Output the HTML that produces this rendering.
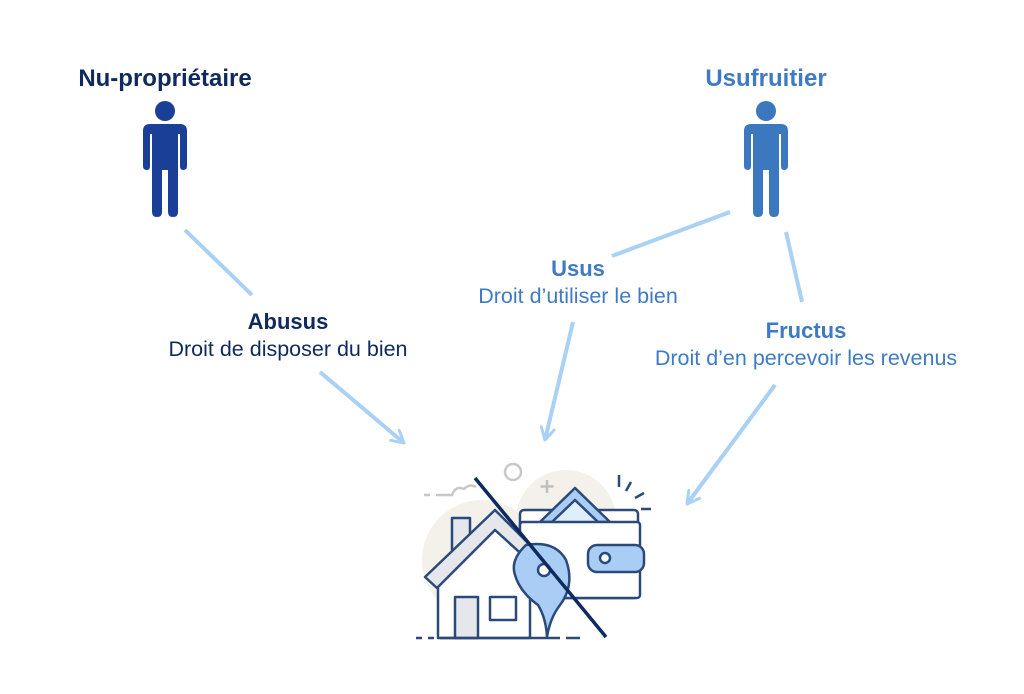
<!DOCTYPE html>
<html><head><meta charset="utf-8"><style>
html,body{margin:0;padding:0;background:#fff;}
svg{display:block;}
text{font-family:"Liberation Sans",sans-serif;}
</style></head><body>
<svg width="1024" height="694" viewBox="0 0 1024 694" xmlns="http://www.w3.org/2000/svg">
<defs>
<marker id="ar" viewBox="0 0 12 12" refX="10" refY="6" markerWidth="4" markerHeight="4" orient="auto" markerUnits="strokeWidth">
<path d="M1,1 L10,6 L1,11" fill="none" stroke="#a9d0f5" stroke-width="2.2" stroke-linecap="round" stroke-linejoin="round"/></marker>
</defs>
<text x="165" y="86" text-anchor="middle" font-size="24" font-weight="bold" fill="#0f2a5e">Nu-propriétaire</text>
<text x="766" y="86" text-anchor="middle" font-size="24" font-weight="bold" fill="#3f7bc4">Usufruitier</text>
<g fill="#1a3f97">
<circle cx="165" cy="111" r="10"/>
<path d="M150,124 H180 Q187,124 187,131 V166 Q187,170 183,170 Q180,170 180,166 V134 H178 V212 Q178,217 173,217 Q168,217 168,212 V170 H162 V212 Q162,217 157,217 Q152,217 152,212 V134 H150 V166 Q150,170 147,170 Q143,170 143,166 V131 Q143,124 150,124 Z"/>
</g>
<g fill="#3b78c0">
<circle cx="766" cy="111" r="10"/>
<path d="M751,124 H781 Q788,124 788,131 V166 Q788,170 784,170 Q781,170 781,166 V134 H779 V212 Q779,217 774,217 Q769,217 769,212 V170 H763 V212 Q763,217 758,217 Q753,217 753,212 V134 H751 V166 Q751,170 748,170 Q744,170 744,166 V131 Q744,124 751,124 Z"/>
</g>
<g stroke="#a9d0f5" stroke-width="4" fill="none">
<line x1="185" y1="230" x2="252" y2="295"/>
<line x1="320" y1="372" x2="404" y2="443" marker-end="url(#ar)"/>
<line x1="730" y1="212" x2="612" y2="256"/>
<line x1="573" y1="322" x2="545" y2="440" marker-end="url(#ar)"/>
<line x1="786" y1="232" x2="802" y2="302"/>
<line x1="775" y1="385" x2="687" y2="504" marker-end="url(#ar)"/>
</g>
<text x="288" y="329" text-anchor="middle" font-size="22" font-weight="bold" fill="#0f2a5e">Abusus</text>
<text x="288" y="356" text-anchor="middle" font-size="21.5" fill="#0f2a5e">Droit de disposer du bien</text>
<text x="578" y="276" text-anchor="middle" font-size="22" font-weight="bold" fill="#3f7bc4">Usus</text>
<text x="578" y="303" text-anchor="middle" font-size="21.5" fill="#3f7bc4">Droit d’utiliser le bien</text>
<text x="806" y="338" text-anchor="middle" font-size="22" font-weight="bold" fill="#3f7bc4">Fructus</text>
<text x="806" y="365" text-anchor="middle" font-size="21.5" fill="#3f7bc4">Droit d’en percevoir les revenus</text>
<circle cx="482" cy="560" r="60" fill="#f3f1ea"/>
<circle cx="566" cy="520" r="50" fill="#f3f1ea"/>
<circle cx="513" cy="472" r="8" fill="none" stroke="#c8c8c8" stroke-width="2.5"/>
<path d="M547,480 v13 M540.5,486.5 h13" stroke="#c0c0c0" stroke-width="2.5"/>
<path d="M424,495 h6 M436,495 h16 q4,-10 12,-6 q6,-6 12,-2" stroke="#c8c8c8" stroke-width="2.5" fill="none"/>
<g stroke="#2b4a7a" stroke-width="2.5" stroke-linejoin="round" fill="none">
<path d="M619,475 v12 M631,482 l-5,9 M644,493 l-9,5 M641,509 h10"/>
<rect x="520" y="510" width="118" height="88" rx="4" fill="#fff"/>
<path d="M540,522 L575,488 L610,522 Z" fill="#a9cdf5"/>
<path d="M552,522 L575,500 L598,522" fill="#dfeefc"/>
<rect x="520" y="522" width="120" height="76" rx="3" fill="#fff"/>
<rect x="588" y="545" width="56" height="27" rx="9" fill="#a9cdf5"/>
<circle cx="605" cy="558" r="5" fill="#fff"/>
<rect x="452" y="518" width="18" height="32" fill="#e6e7ea"/>
<path d="M438,580 L495,528 L530,560 L530,638 L438,638 Z" fill="#fff"/>
<path d="M425,577 L495,510 L528,543 L528,560 L495,530 L437,588 Z" fill="#e6e7ea"/>
<rect x="455" y="597" width="23" height="41" fill="#e6e7ea"/>
<rect x="490" y="597" width="26" height="23" fill="#fff"/>
<path d="M526,545 Q510,560 515,575 Q520,592 538,605 Q546,618 547,637 Q550,618 560,605 Q575,585 566,560 Q555,540 526,545 Z" fill="#a9cdf5"/>
<circle cx="544" cy="570" r="6" fill="#fff"/>
</g>
<path d="M416,638 h6 M428,638 h6 M440,638 h120 M566,638 h14" stroke="#2b4a7a" stroke-width="2.5"/>
<line x1="475" y1="478" x2="606" y2="637" stroke="#0f2a5e" stroke-width="3.5"/>
</svg>
</body></html>
